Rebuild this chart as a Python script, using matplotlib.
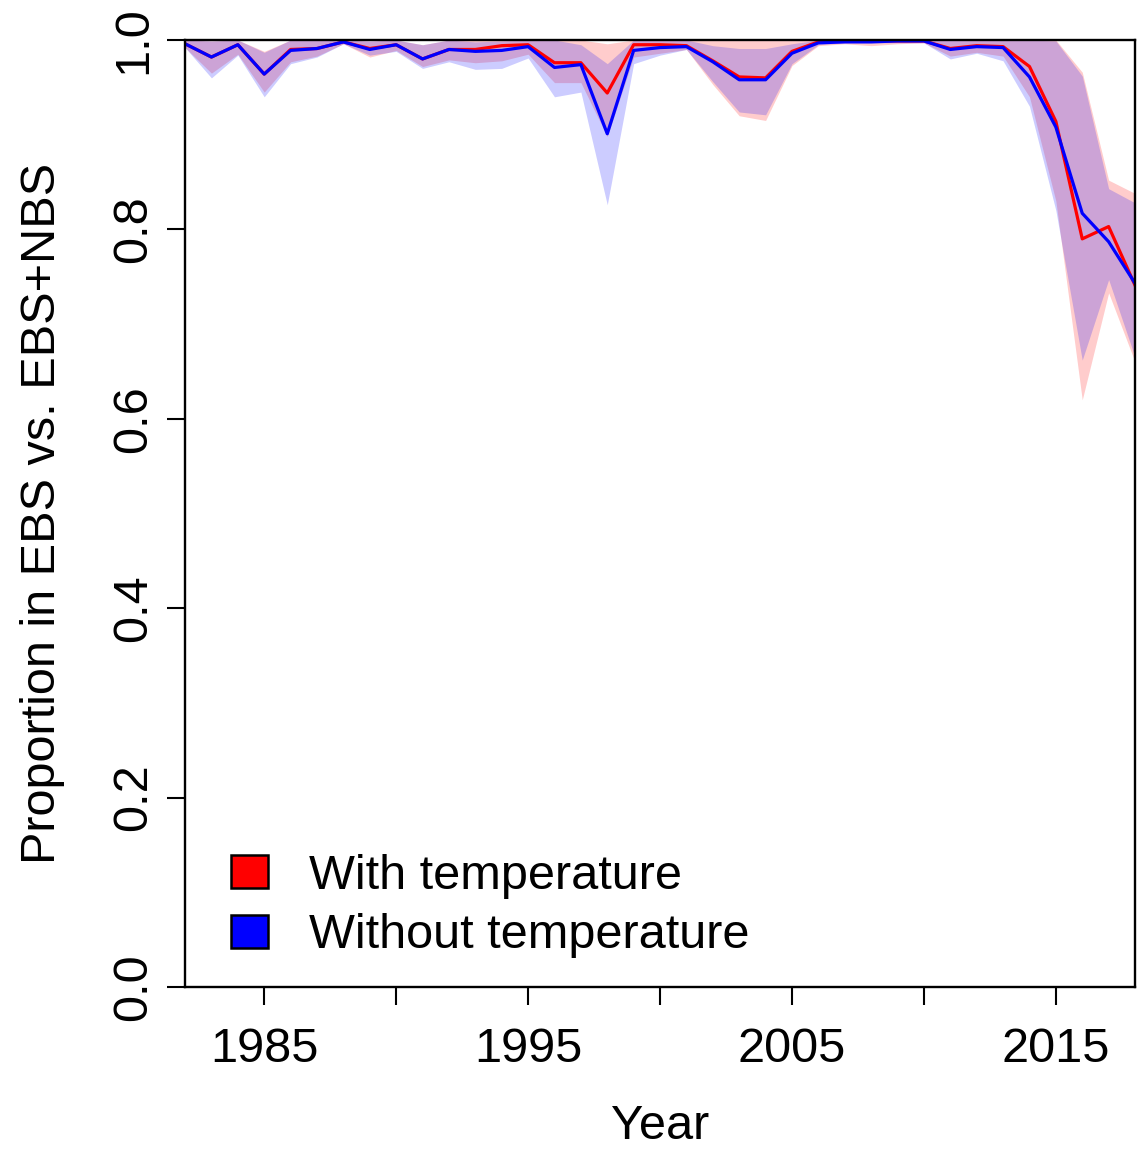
import numpy as np
import matplotlib
matplotlib.use("Agg")
import matplotlib.pyplot as plt
from matplotlib.patches import Patch

plt.rcParams['font.family'] = ['Liberation Sans', 'DejaVu Sans']

# Anos e proporções estimadas (média e intervalo) para cada modelo
anos = np.arange(1982, 2019)

com_temp = [0.996, 0.982, 0.995, 0.964, 0.990, 0.991, 0.998, 0.991, 0.995, 0.980,
            0.990, 0.990, 0.994, 0.995, 0.976, 0.976, 0.944, 0.995, 0.995, 0.994,
            0.978, 0.961, 0.960, 0.988, 0.998, 0.999, 0.999, 0.999, 0.999, 0.991,
            0.994, 0.993, 0.972, 0.914, 0.790, 0.803, 0.741]
com_temp_inf = [0.992, 0.965, 0.985, 0.945, 0.977, 0.983, 0.996, 0.982, 0.989, 0.972,
                0.979, 0.976, 0.978, 0.985, 0.955, 0.955, 0.898, 0.982, 0.986, 0.990,
                0.953, 0.920, 0.915, 0.973, 0.994, 0.996, 0.994, 0.996, 0.997, 0.983,
                0.987, 0.983, 0.940, 0.830, 0.620, 0.733, 0.660]
com_temp_sup = [1.000, 0.999, 1.000, 0.988, 1.000, 1.000, 1.000, 0.999, 1.000, 0.995,
                1.000, 1.000, 1.000, 1.000, 1.000, 1.000, 0.996, 1.000, 1.000, 1.000,
                1.000, 1.000, 1.000, 1.000, 1.000, 1.000, 1.000, 1.000, 1.000, 1.000,
                1.000, 1.000, 1.000, 1.000, 0.966, 0.852, 0.838]

sem_temp = [0.996, 0.982, 0.995, 0.964, 0.989, 0.991, 0.998, 0.990, 0.995, 0.980,
            0.990, 0.988, 0.989, 0.993, 0.971, 0.974, 0.901, 0.989, 0.992, 0.993,
            0.977, 0.958, 0.958, 0.986, 0.997, 0.998, 0.998, 0.999, 0.999, 0.990,
            0.993, 0.992, 0.961, 0.908, 0.817, 0.787, 0.743]
sem_temp_inf = [0.992, 0.960, 0.984, 0.940, 0.975, 0.982, 0.996, 0.984, 0.988, 0.970,
                0.977, 0.969, 0.970, 0.981, 0.940, 0.945, 0.826, 0.975, 0.984, 0.990,
                0.956, 0.924, 0.921, 0.975, 0.995, 0.997, 0.997, 0.997, 0.997, 0.980,
                0.986, 0.978, 0.930, 0.820, 0.662, 0.747, 0.665]
sem_temp_sup = [1.000, 0.999, 1.000, 0.987, 1.000, 1.000, 1.000, 0.999, 1.000, 0.995,
                1.000, 0.998, 0.999, 1.000, 1.000, 0.995, 0.975, 1.000, 1.000, 1.000,
                0.994, 0.991, 0.991, 0.996, 1.000, 1.000, 1.000, 1.000, 1.000, 1.000,
                1.000, 1.000, 1.000, 0.999, 0.962, 0.843, 0.828]

rotulos_legenda = ['With temperature', 'Without temperature']

fig = plt.figure(figsize=(11.48, 11.56), dpi=100)
ax = fig.add_axes([0.1612, 0.1462, 0.8275, 0.8192])

# vermelho primeiro, depois azul por cima (transparência 0.2)
ax.fill_between(anos, com_temp_inf, com_temp_sup, color=(1, 0, 0, 0.2), linewidth=0)
ax.plot(anos, com_temp, color='red', linewidth=2.3)
ax.fill_between(anos, sem_temp_inf, sem_temp_sup, color=(0, 0, 1, 0.2), linewidth=0)
ax.plot(anos, sem_temp, color='blue', linewidth=2.3)

ax.set_xlim(1982, 2018)
ax.set_ylim(0, 1)
ax.set_xticks(np.arange(1985, 2016, 5))
ax.set_xticklabels(['1985', '', '1995', '', '2005', '', '2015'])
ax.set_yticks([0, 0.2, 0.4, 0.6, 0.8, 1.0])
ax.set_yticklabels(['0.0', '0.2', '0.4', '0.6', '0.8', '1.0'], rotation=90, va='center')

for s in ax.spines.values():
    s.set_linewidth(1.7)
ax.tick_params(axis='both', length=13, width=1.5, labelsize=35)
ax.tick_params(axis='x', pad=16)
ax.tick_params(axis='y', pad=8)

ax.set_xlabel('Year', fontsize=35, labelpad=23)
ax.set_ylabel('Proportion in EBS vs. EBS+NBS', fontsize=35, labelpad=33)

handles = [Patch(facecolor='red', edgecolor='black', linewidth=1.8),
           Patch(facecolor='blue', edgecolor='black', linewidth=1.8)]
ax.legend(handles, rotulos_legenda, loc='lower left', bbox_to_anchor=(0.002, -0.016),
          frameon=False, fontsize=35, handlelength=0.76, handleheight=0.68,
          handletextpad=0.85, labelspacing=0.3)

fig.savefig('out.png', dpi=100)
